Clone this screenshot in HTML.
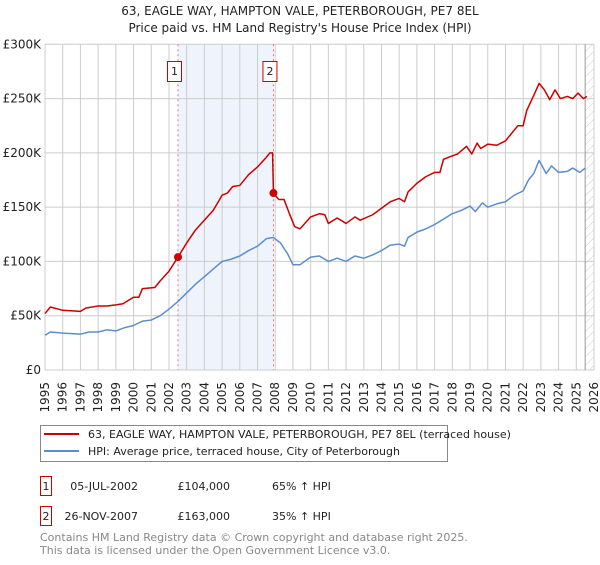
<!DOCTYPE html>
<html><head><meta charset="utf-8"><style>
body{margin:0;background:#fff;font-family:"Liberation Sans","DejaVu Sans",sans-serif;}
svg text{font-family:"DejaVu Sans","Liberation Sans",sans-serif;}
</style></head><body>
<svg id="c" width="600" height="560" xmlns="http://www.w3.org/2000/svg">
<defs><pattern id="hatch" width="6" height="6" patternUnits="userSpaceOnUse" patternTransform="rotate(45)"><line x1="0" y1="0" x2="0" y2="6" stroke="#ccc" stroke-width="1"/></pattern></defs>
<text x="300" y="15" text-anchor="middle" font-size="12" fill="#222">63, EAGLE WAY, HAMPTON VALE, PETERBOROUGH, PE7 8EL</text>
<text x="300" y="32" text-anchor="middle" font-size="12" fill="#222">Price paid vs. HM Land Registry's House Price Index (HPI)</text>
<g id="plot"></g>
<g>
<rect x="40.5" y="425.5" width="407" height="36" fill="#fff" stroke="#888"/>
<line x1="44" y1="434" x2="79" y2="434" stroke="#cc0000" stroke-width="2"/>
<text x="88" y="438" font-size="11" fill="#222">63, EAGLE WAY, HAMPTON VALE, PETERBOROUGH, PE7 8EL (terraced house)</text>
<line x1="44" y1="451" x2="79" y2="451" stroke="#5b8dd0" stroke-width="2"/>
<text x="88" y="455" font-size="11" fill="#222">HPI: Average price, terraced house, City of Peterborough</text>
</g>
<g font-size="11" fill="#222">
<rect x="40.5" y="476.5" width="11" height="19" fill="#fff" stroke="#cc0000"/>
<text x="46" y="490" text-anchor="middle">1</text>
<text x="138" y="490" text-anchor="end">05-JUL-2002</text>
<text x="230" y="490" text-anchor="end">£104,000</text>
<text x="272" y="490">65% ↑ HPI</text>
<rect x="40.5" y="506.5" width="11" height="19" fill="#fff" stroke="#cc0000"/>
<text x="46" y="520" text-anchor="middle">2</text>
<text x="138" y="520" text-anchor="end">26-NOV-2007</text>
<text x="230" y="520" text-anchor="end">£163,000</text>
<text x="272" y="520">35% ↑ HPI</text>
</g>
<text x="40" y="541" font-size="11" fill="#888">Contains HM Land Registry data © Crown copyright and database right 2025.</text>
<text x="40" y="554" font-size="11" fill="#888">This data is licensed under the Open Government Licence v3.0.</text>
</svg>
<script>
const yTicks=[0,50000,100000,150000,200000,250000,300000];
const yLabels=["£0","£50K","£100K","£150K","£200K","£250K","£300K"];
const years=[1995,1996,1997,1998,1999,2000,2001,2002,2003,2004,2005,2006,2007,2008,2009,2010,2011,2012,2013,2014,2015,2016,2017,2018,2019,2020,2021,2022,2023,2024,2025,2026];
const hpiT=[1995,1995.3,1996,1997,1997.5,1998,1998.5,1999,1999.5,2000,2000.5,2001,2001.5,2002,2002.5,2003,2003.5,2004,2004.5,2005,2005.5,2006,2006.5,2007,2007.5,2007.9,2008.3,2008.7,2009,2009.4,2010,2010.5,2011,2011.5,2012,2012.5,2013,2013.5,2014,2014.5,2015,2015.3,2015.5,2016,2016.5,2017,2017.5,2018,2018.5,2019,2019.3,2019.7,2020,2020.5,2021,2021.5,2022,2022.3,2022.6,2022.9,2023.3,2023.6,2024,2024.5,2024.8,2025.2,2025.5];
const hpiV=[32,35,34,33,35,35,37,36,39,41,45,46,50,56,63,71,79,86,93,100,102,105,110,114,121,122,117,107,97,97,104,105,100,103,100,105,103,106,110,115,116,114,122,127,130,134,139,144,147,151,146,154,150,153,155,161,165,175,181,193,181,188,182,183,186,182,186];
const ppT=[1995,1995.3,1996,1997,1997.3,1998,1998.5,1999,1999.4,2000,2000.3,2000.5,2001.2,2001.5,2002,2002.51,2003,2003.5,2004,2004.5,2005,2005.3,2005.6,2006,2006.5,2007,2007.5,2007.7,2007.85,2007.9,2008.2,2008.5,2008.8,2009.1,2009.4,2010,2010.5,2010.8,2011,2011.5,2012,2012.5,2012.8,2013.5,2014,2014.5,2015,2015.3,2015.5,2016,2016.5,2017,2017.3,2017.5,2017.8,2018.3,2018.8,2019.1,2019.4,2019.6,2020,2020.5,2021,2021.3,2021.7,2022,2022.2,2022.6,2022.9,2023.2,2023.5,2023.8,2024.1,2024.5,2024.8,2025.1,2025.4,2025.6];
const ppV=[52,58,55,54,57,59,59,60,61,67,67,75,76,82,91,104,117,129,138,147,161,163,169,170,180,187,196,200,200,163,157,157,144,132,130,141,144,143,135,140,135,141,138,143,149,155,158,155,164,172,178,182,182,194,196,199,206,199,209,204,208,207,211,217,225,225,239,253,264,258,249,258,250,252,250,255,250,252];
const saleT=[2002.51,2007.9];
const saleV=[104000,163000];
const saleLabels=["1","2"];

const X0=45,X1=594,Y0=370,Y1=44.3;
const xs=t=>X0+(t-1995)/(2026-1995)*(X1-X0);
const ys=v=>Y0-v/300000*(Y0-Y1);
const NS="http://www.w3.org/2000/svg";
const g=document.getElementById('plot');
function mk(tag,attrs,parent){const e=document.createElementNS(NS,tag);for(const k in attrs)e.setAttribute(k,attrs[k]);(parent||g).appendChild(e);return e;}
let sh=mk('rect',{x:xs(saleT[0]),y:Y1,width:xs(saleT[1])-xs(saleT[0]),height:Y0-Y1,fill:'#eef3fc'});


let ht=mk('rect',{x:xs(2025.5),y:Y1,width:X1-xs(2025.5),height:Y0-Y1,fill:'url(#hatch)'});


years.forEach(y=>{const l=mk('line',{x1:xs(y),x2:xs(y),y1:Y1,y2:Y0,stroke:'#ccc','stroke-width':1});


const t=mk('text',{x:0,y:0,'font-size':12,fill:'#222','text-anchor':'end',transform:`translate(${xs(y)+4},${Y0+12}) rotate(-90)`});t.textContent=y;

});
yTicks.forEach((v,i)=>{const l=mk('line',{x1:X0,x2:X1,y1:ys(v),y2:ys(v),stroke:'#ccc','stroke-width':1});


const t=mk('text',{x:X0-4,y:ys(v)+4,'font-size':12,fill:'#222','text-anchor':'end'});t.textContent=yLabels[i];

});
mk('line',{x1:xs(2025.5),x2:xs(2025.5),y1:Y1,y2:Y0,stroke:'#999','stroke-width':1});
saleT.forEach((t,i)=>{const l=mk('line',{x1:xs(t),x2:xs(t),y1:Y1,y2:Y0,stroke:'#f07070','stroke-width':1,'stroke-dasharray':'2,3'});


const b=mk('rect',{x:xs(t)-10.5,y:61.5,width:14,height:20,fill:'#fff',stroke:'#cc0000'});


const tx=mk('text',{x:xs(t)-3.5,y:75,'font-size':11,fill:'#222','text-anchor':'middle'});tx.textContent=saleLabels[i];

});
function line(T,V,col,name){const p=mk('polyline',{points:T.map((t,i)=>xs(t)+','+ys(V[i]*1000)).join(' '),fill:'none',stroke:col,'stroke-width':1.5,'stroke-linejoin':'round'});

}
line(hpiT,hpiV,'#5b8dd0','hpi-line');
line(ppT,ppV,'#cc0000','price-paid-line');
saleT.forEach((t,i)=>{const c=mk('circle',{cx:xs(t),cy:ys(saleV[i]),r:4,fill:'#cc0000'});

});
</script>
</body></html>
